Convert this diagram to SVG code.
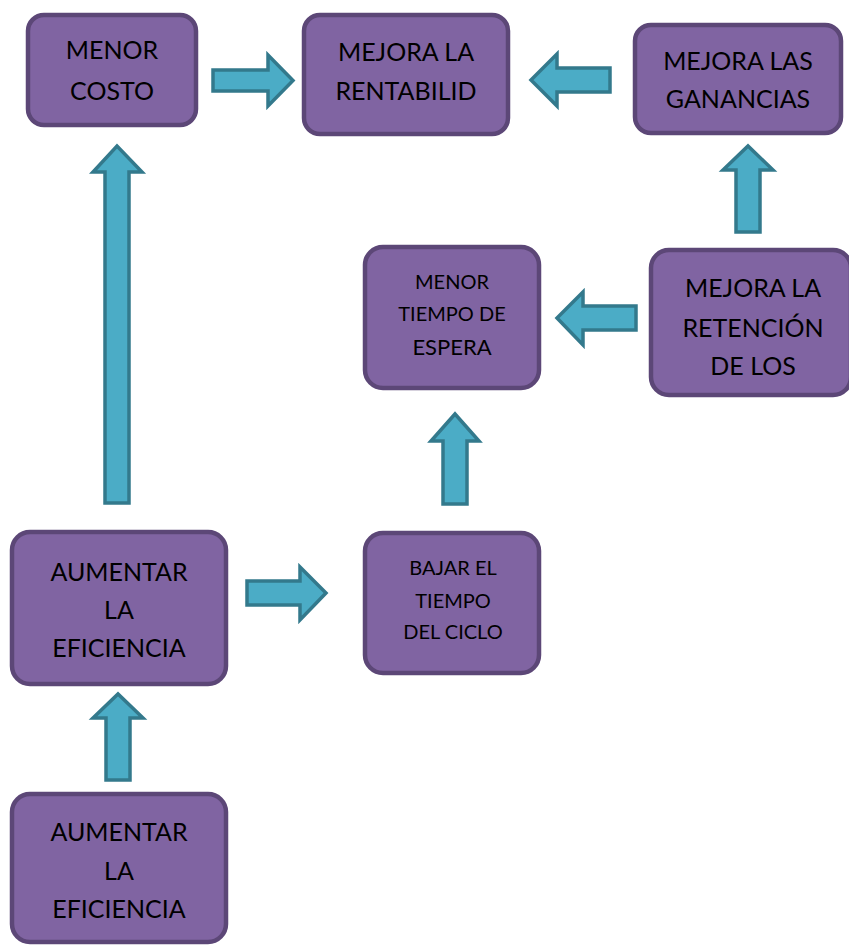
<svg xmlns="http://www.w3.org/2000/svg" width="849" height="945" viewBox="0 0 849 945">
<style>
.box{fill:#8064a2;stroke:#5c4777;stroke-width:4.5}
.arr{fill:#4bacc6;stroke:#33798c;stroke-width:3.5;stroke-linejoin:miter}
text{font-family:Lato,"Open Sans","Liberation Sans",sans-serif;fill:#000;text-anchor:middle}
.big{font-size:25px}
.sm{font-size:20px}
.md{font-size:22px}
</style>
<rect width="849" height="945" fill="#fff"/>
<g id="connectors">
<polygon class="arr" points="213,70 268,70 268,55 293,80.5 268,106 268,91 213,91"/>
<polygon class="arr" points="610,68 557,68 557,54 531,80 557,106 557,92 610,92"/>
<polygon class="arr" points="736,232 736,170 723,170 748,146 773,170 760,170 760,232"/>
<polygon class="arr" points="636,306 583,306 583,292 557,318 583,345 583,330 636,330"/>
<polygon class="arr" points="443,504 443,441 431,441 455,414 479,441 467,441 467,504"/>
<polygon class="arr" points="247,581 300,581 300,567 326,593 300,620 300,605 247,605"/>
<polygon class="arr" points="105,503 105,172 93,172 117,146 142,172 129,172 129,503"/>
<polygon class="arr" points="106,780 106,718 93,718 118,694 143,718 130,718 130,780"/>
</g>
<g id="menor-costo">
<rect class="box" x="28" y="15" width="168" height="110" rx="16"/>
<text class="big" x="112" y="59">MENOR</text>
<text class="big" x="112" y="100">COSTO</text>
</g>
<g id="mejora-rentabilidad">
<rect class="box" x="304" y="15" width="204" height="119" rx="16"/>
<text class="big" x="406" y="61">MEJORA LA</text>
<text class="big" x="406" y="100">RENTABILID</text>
</g>
<g id="mejora-ganancias">
<rect class="box" x="635" y="25" width="206" height="108" rx="16"/>
<text class="big" x="738" y="70">MEJORA LAS</text>
<text class="big" x="738" y="108">GANANCIAS</text>
</g>
<g id="menor-tiempo-espera">
<rect class="box" x="365" y="247" width="174" height="141" rx="18"/>
<text class="sm" x="452" y="289">MENOR</text>
<text class="sm" x="452" y="321">TIEMPO DE</text>
<text class="md" x="452" y="355">ESPERA</text>
</g>
<g id="mejora-retencion">
<rect class="box" x="651" y="250" width="200" height="145" rx="18"/>
<text class="big" x="753" y="297">MEJORA LA</text>
<text class="big" x="753" y="337">RETENCIÓN</text>
<text class="big" x="753" y="375">DE LOS</text>
</g>
<g id="aumentar-eficiencia-1">
<rect class="box" x="12" y="532" width="214" height="152" rx="18"/>
<text class="big" x="119" y="581">AUMENTAR</text>
<text class="big" x="119" y="619">LA</text>
<text class="big" x="119" y="657">EFICIENCIA</text>
</g>
<g id="bajar-tiempo-ciclo">
<rect class="box" x="365" y="533" width="174" height="140" rx="18"/>
<text class="sm" x="453" y="575">BAJAR EL</text>
<text class="sm" x="453" y="608">TIEMPO</text>
<text class="sm" x="453" y="639">DEL CICLO</text>
</g>
<g id="aumentar-eficiencia-2">
<rect class="box" x="12" y="794" width="214" height="148" rx="18"/>
<text class="big" x="119" y="841">AUMENTAR</text>
<text class="big" x="119" y="880">LA</text>
<text class="big" x="119" y="918">EFICIENCIA</text>
</g>
</svg>
